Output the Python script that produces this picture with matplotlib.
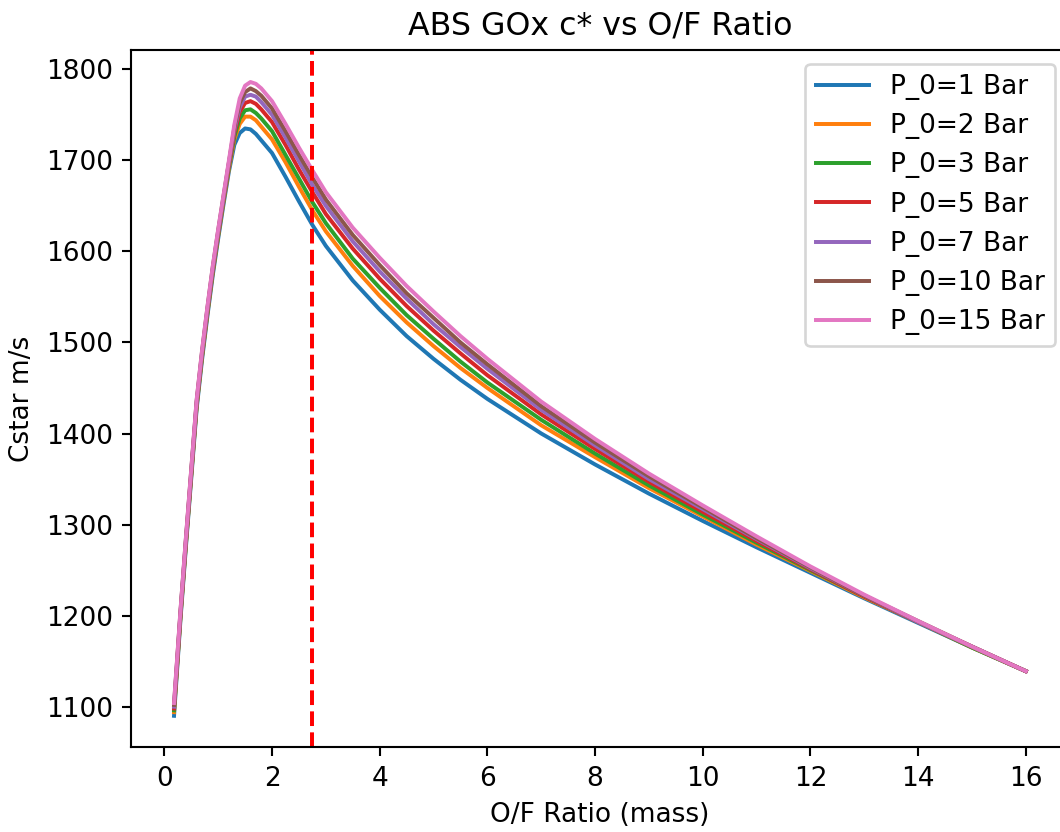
import numpy as np
import matplotlib
matplotlib.use('Agg')
import matplotlib.pyplot as plt

# O/F ratio (mass)
of_ratio = [0.18, 0.3, 0.4, 0.5, 0.6, 0.7, 0.8, 0.9, 1.0, 1.1, 1.2, 1.3, 1.4,
            1.5, 1.6, 1.7, 1.8, 2.0, 2.25, 2.5, 2.75, 3.0, 3.5, 4.0, 4.5, 5.0,
            5.5, 6.0, 7.0, 8.0, 9.0, 10.0, 11.0, 12.0, 13.0, 14.0, 15.0, 16.0]

# c* in m/s for each chamber pressure
cstar_1 = [1090, 1196, 1275, 1351, 1427, 1481, 1529, 1574, 1614, 1652, 1688, 1717, 1730,
           1735, 1734, 1729, 1722, 1708, 1682, 1655, 1629, 1606, 1568, 1536, 1507, 1482,
           1459, 1438, 1400, 1366, 1334, 1304, 1275, 1247, 1219, 1192, 1165, 1139]
cstar_2 = [1094, 1199, 1278, 1354, 1430, 1484, 1532, 1577, 1617, 1655, 1691, 1723, 1740,
           1748, 1748, 1744, 1737, 1723, 1698, 1671, 1645, 1622, 1584, 1551, 1522, 1496,
           1472, 1450, 1409, 1374, 1340, 1309, 1278, 1249, 1220, 1193, 1165, 1139]
cstar_3 = [1096, 1200, 1279, 1355, 1431, 1485, 1533, 1578, 1618, 1656, 1693, 1726, 1746,
           1755, 1756, 1752, 1746, 1732, 1706, 1680, 1654, 1631, 1592, 1560, 1530, 1504,
           1479, 1456, 1415, 1378, 1343, 1311, 1280, 1250, 1221, 1193, 1165, 1139]
cstar_5 = [1098, 1202, 1281, 1357, 1433, 1487, 1535, 1580, 1620, 1658, 1695, 1730, 1753,
           1763, 1765, 1762, 1756, 1742, 1717, 1690, 1665, 1641, 1603, 1570, 1540, 1513,
           1488, 1464, 1421, 1383, 1347, 1314, 1282, 1251, 1221, 1193, 1166, 1139]
cstar_7 = [1100, 1203, 1282, 1358, 1434, 1488, 1536, 1581, 1621, 1659, 1697, 1733, 1758,
           1770, 1772, 1770, 1764, 1750, 1725, 1699, 1673, 1650, 1611, 1578, 1548, 1520,
           1495, 1471, 1426, 1387, 1350, 1317, 1284, 1252, 1222, 1193, 1166, 1139]
cstar_10 = [1102, 1205, 1284, 1360, 1436, 1490, 1538, 1583, 1623, 1661, 1698, 1736, 1763,
            1775, 1779, 1776, 1771, 1757, 1732, 1706, 1681, 1657, 1618, 1585, 1554, 1527,
            1500, 1476, 1430, 1390, 1353, 1319, 1285, 1253, 1222, 1194, 1166, 1139]
cstar_15 = [1104, 1206, 1285, 1361, 1437, 1491, 1539, 1584, 1624, 1662, 1700, 1739, 1768,
            1782, 1786, 1784, 1779, 1765, 1740, 1714, 1689, 1665, 1626, 1593, 1562, 1534,
            1507, 1482, 1435, 1394, 1356, 1321, 1287, 1254, 1223, 1194, 1166, 1139]

pressures = [1, 2, 3, 5, 7, 10, 15]
series = [cstar_1, cstar_2, cstar_3, cstar_5, cstar_7, cstar_10, cstar_15]
chosen_of = 2.75

DPI = 190
fig = plt.figure(figsize=(1060 / DPI, 832 / DPI), dpi=DPI)
# axes run slightly past the right edge (original image was cropped there)
ax = fig.add_axes([0.1240, 0.1016, 0.8839, 0.8379])

for p, c in zip(pressures, series):
    ax.plot(of_ratio, c, label=f'P_0={p} Bar')

ax.axvline(x=chosen_of, color='red', linestyle='--')

ax.set_xlabel('O/F Ratio (mass)')
ax.set_ylabel('Cstar m/s')
ax.set_title('ABS GOx c* vs O/F Ratio')
ax.set_xticks([0, 2, 4, 6, 8, 10, 12, 14, 16])
ax.legend(loc='upper right')

fig.savefig('out.png', dpi=DPI)
